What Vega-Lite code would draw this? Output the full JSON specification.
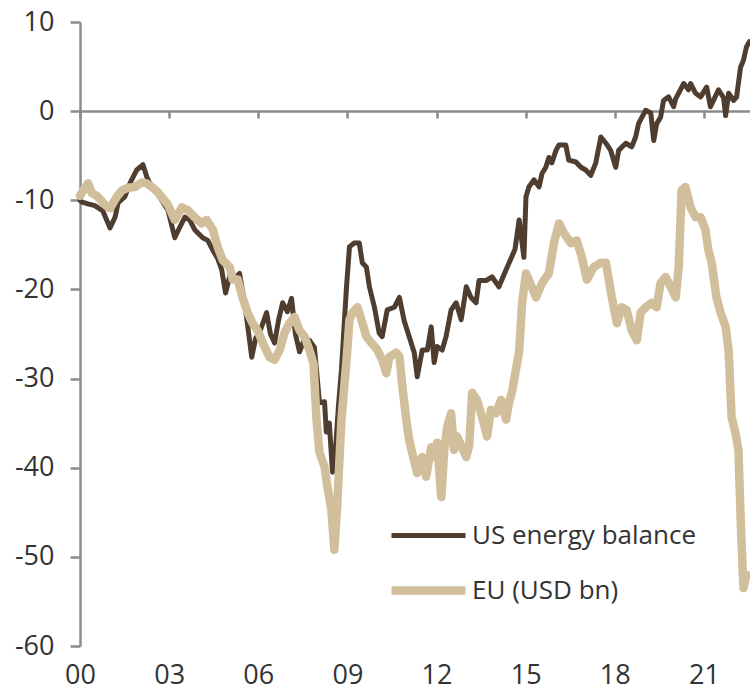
{
  "$schema": "https://vega.github.io/schema/vega-lite/v6.json",
  "width": 670,
  "height": 624,
  "autosize": {"type": "none"},
  "padding": {"left": 80, "top": 22, "right": 0, "bottom": 48},
  "background": "white",
  "config": {"view": {"stroke": null}, "font": "Open Sans"},
  "data": {"values": [
{"s":"US","t":2000.00,"v":-10.0},{"s":"US","t":2000.07,"v":-10.2},{"s":"US","t":2000.27,"v":-10.4},{"s":"US","t":2000.50,"v":-10.6},{"s":"US","t":2000.77,"v":-11.2},
{"s":"US","t":2001.01,"v":-13.1},{"s":"US","t":2001.18,"v":-11.9},{"s":"US","t":2001.28,"v":-10.3},{"s":"US","t":2001.51,"v":-9.6},{"s":"US","t":2001.68,"v":-8.1},
{"s":"US","t":2001.91,"v":-6.6},{"s":"US","t":2002.12,"v":-6.0},{"s":"US","t":2002.25,"v":-7.4},{"s":"US","t":2002.42,"v":-8.6},{"s":"US","t":2002.59,"v":-9.2},
{"s":"US","t":2002.75,"v":-10.0},{"s":"US","t":2002.96,"v":-11.1},{"s":"US","t":2003.19,"v":-14.2},{"s":"US","t":2003.36,"v":-13.0},{"s":"US","t":2003.53,"v":-11.9},
{"s":"US","t":2003.69,"v":-12.2},{"s":"US","t":2003.86,"v":-13.3},{"s":"US","t":2004.13,"v":-14.2},{"s":"US","t":2004.30,"v":-14.5},{"s":"US","t":2004.47,"v":-15.6},
{"s":"US","t":2004.63,"v":-16.5},{"s":"US","t":2004.77,"v":-17.8},{"s":"US","t":2004.90,"v":-20.4},{"s":"US","t":2005.04,"v":-18.5},{"s":"US","t":2005.20,"v":-18.8},
{"s":"US","t":2005.37,"v":-18.2},{"s":"US","t":2005.54,"v":-21.5},{"s":"US","t":2005.68,"v":-25.0},{"s":"US","t":2005.78,"v":-27.6},{"s":"US","t":2005.91,"v":-25.5},
{"s":"US","t":2006.08,"v":-24.5},{"s":"US","t":2006.28,"v":-22.6},{"s":"US","t":2006.41,"v":-25.0},{"s":"US","t":2006.55,"v":-26.0},{"s":"US","t":2006.68,"v":-23.5},
{"s":"US","t":2006.82,"v":-21.5},{"s":"US","t":2006.98,"v":-22.5},{"s":"US","t":2007.12,"v":-21.0},{"s":"US","t":2007.25,"v":-25.0},{"s":"US","t":2007.39,"v":-27.0},
{"s":"US","t":2007.56,"v":-25.5},{"s":"US","t":2007.72,"v":-25.7},{"s":"US","t":2007.89,"v":-26.5},{"s":"US","t":2008.06,"v":-32.7},{"s":"US","t":2008.23,"v":-32.6},
{"s":"US","t":2008.29,"v":-36.0},{"s":"US","t":2008.39,"v":-35.0},{"s":"US","t":2008.50,"v":-40.5},{"s":"US","t":2008.60,"v":-38.0},{"s":"US","t":2008.70,"v":-33.0},
{"s":"US","t":2008.80,"v":-29.0},{"s":"US","t":2008.97,"v":-19.7},{"s":"US","t":2009.07,"v":-15.2},{"s":"US","t":2009.23,"v":-14.8},{"s":"US","t":2009.40,"v":-14.8},
{"s":"US","t":2009.50,"v":-17.0},{"s":"US","t":2009.64,"v":-17.5},{"s":"US","t":2009.74,"v":-19.7},{"s":"US","t":2009.91,"v":-22.0},{"s":"US","t":2010.07,"v":-24.9},
{"s":"US","t":2010.17,"v":-25.3},{"s":"US","t":2010.34,"v":-22.3},{"s":"US","t":2010.58,"v":-22.0},{"s":"US","t":2010.75,"v":-20.9},{"s":"US","t":2010.91,"v":-23.5},
{"s":"US","t":2011.08,"v":-25.3},{"s":"US","t":2011.25,"v":-27.1},{"s":"US","t":2011.35,"v":-29.8},{"s":"US","t":2011.52,"v":-26.8},{"s":"US","t":2011.69,"v":-26.8},
{"s":"US","t":2011.82,"v":-24.2},{"s":"US","t":2011.92,"v":-28.2},{"s":"US","t":2012.02,"v":-26.4},{"s":"US","t":2012.19,"v":-26.8},{"s":"US","t":2012.32,"v":-25.3},
{"s":"US","t":2012.49,"v":-22.3},{"s":"US","t":2012.66,"v":-21.5},{"s":"US","t":2012.83,"v":-23.4},{"s":"US","t":2013.00,"v":-19.7},{"s":"US","t":2013.16,"v":-20.9},
{"s":"US","t":2013.33,"v":-21.5},{"s":"US","t":2013.43,"v":-19.0},{"s":"US","t":2013.67,"v":-19.0},{"s":"US","t":2013.87,"v":-18.6},{"s":"US","t":2014.10,"v":-19.7},
{"s":"US","t":2014.34,"v":-17.8},{"s":"US","t":2014.51,"v":-16.5},{"s":"US","t":2014.64,"v":-15.5},{"s":"US","t":2014.78,"v":-12.2},{"s":"US","t":2014.94,"v":-16.4},
{"s":"US","t":2015.01,"v":-9.6},{"s":"US","t":2015.11,"v":-8.5},{"s":"US","t":2015.28,"v":-7.7},{"s":"US","t":2015.45,"v":-8.5},{"s":"US","t":2015.55,"v":-7.0},
{"s":"US","t":2015.68,"v":-6.3},{"s":"US","t":2015.78,"v":-5.2},{"s":"US","t":2015.88,"v":-5.8},{"s":"US","t":2016.02,"v":-4.4},{"s":"US","t":2016.12,"v":-3.8},
{"s":"US","t":2016.35,"v":-3.8},{"s":"US","t":2016.45,"v":-5.5},{"s":"US","t":2016.69,"v":-5.7},{"s":"US","t":2016.86,"v":-6.3},{"s":"US","t":2017.02,"v":-6.6},
{"s":"US","t":2017.19,"v":-7.2},{"s":"US","t":2017.36,"v":-5.8},{"s":"US","t":2017.53,"v":-2.9},{"s":"US","t":2017.70,"v":-3.6},{"s":"US","t":2017.86,"v":-4.4},
{"s":"US","t":2018.03,"v":-6.3},{"s":"US","t":2018.13,"v":-4.4},{"s":"US","t":2018.37,"v":-3.6},{"s":"US","t":2018.57,"v":-4.0},{"s":"US","t":2018.70,"v":-2.9},
{"s":"US","t":2018.80,"v":-1.4},{"s":"US","t":2018.91,"v":-0.7},{"s":"US","t":2019.04,"v":0.1},{"s":"US","t":2019.21,"v":-0.2},{"s":"US","t":2019.31,"v":-3.3},
{"s":"US","t":2019.41,"v":-1.4},{"s":"US","t":2019.54,"v":-0.7},{"s":"US","t":2019.64,"v":1.2},{"s":"US","t":2019.81,"v":1.6},{"s":"US","t":2019.98,"v":0.5},
{"s":"US","t":2020.05,"v":1.4},{"s":"US","t":2020.21,"v":2.4},{"s":"US","t":2020.32,"v":3.1},{"s":"US","t":2020.48,"v":2.4},{"s":"US","t":2020.55,"v":3.1},
{"s":"US","t":2020.72,"v":2.0},{"s":"US","t":2020.89,"v":1.6},{"s":"US","t":2021.09,"v":2.7},{"s":"US","t":2021.22,"v":0.5},{"s":"US","t":2021.32,"v":1.2},
{"s":"US","t":2021.49,"v":2.4},{"s":"US","t":2021.66,"v":1.5},{"s":"US","t":2021.73,"v":-0.5},{"s":"US","t":2021.83,"v":2.0},{"s":"US","t":2022.00,"v":1.2},
{"s":"US","t":2022.10,"v":1.6},{"s":"US","t":2022.23,"v":4.9},{"s":"US","t":2022.33,"v":5.7},{"s":"US","t":2022.43,"v":7.2},{"s":"US","t":2022.53,"v":7.8},
{"s":"EU","t":2000.00,"v":-9.5},{"s":"EU","t":2000.13,"v":-8.8},{"s":"EU","t":2000.27,"v":-8.1},{"s":"EU","t":2000.40,"v":-9.2},{"s":"EU","t":2000.60,"v":-9.6},
{"s":"EU","t":2000.84,"v":-10.5},{"s":"EU","t":2001.01,"v":-10.9},{"s":"EU","t":2001.24,"v":-9.6},{"s":"EU","t":2001.41,"v":-8.9},{"s":"EU","t":2001.61,"v":-8.6},
{"s":"EU","t":2001.85,"v":-8.5},{"s":"EU","t":2002.08,"v":-8.0},{"s":"EU","t":2002.25,"v":-8.1},{"s":"EU","t":2002.42,"v":-8.5},{"s":"EU","t":2002.62,"v":-9.1},
{"s":"EU","t":2002.79,"v":-9.8},{"s":"EU","t":2002.96,"v":-10.5},{"s":"EU","t":2003.19,"v":-12.2},{"s":"EU","t":2003.43,"v":-10.8},{"s":"EU","t":2003.63,"v":-11.1},
{"s":"EU","t":2003.86,"v":-11.9},{"s":"EU","t":2004.10,"v":-12.6},{"s":"EU","t":2004.26,"v":-12.2},{"s":"EU","t":2004.47,"v":-13.3},{"s":"EU","t":2004.63,"v":-15.2},
{"s":"EU","t":2004.80,"v":-16.7},{"s":"EU","t":2005.04,"v":-17.5},{"s":"EU","t":2005.14,"v":-18.9},{"s":"EU","t":2005.31,"v":-18.9},{"s":"EU","t":2005.47,"v":-20.9},
{"s":"EU","t":2005.64,"v":-22.6},{"s":"EU","t":2005.81,"v":-23.8},{"s":"EU","t":2005.98,"v":-24.6},{"s":"EU","t":2006.15,"v":-26.0},{"s":"EU","t":2006.38,"v":-27.6},
{"s":"EU","t":2006.55,"v":-27.9},{"s":"EU","t":2006.72,"v":-26.8},{"s":"EU","t":2006.88,"v":-24.9},{"s":"EU","t":2007.05,"v":-23.8},{"s":"EU","t":2007.22,"v":-23.1},
{"s":"EU","t":2007.39,"v":-24.6},{"s":"EU","t":2007.56,"v":-25.3},{"s":"EU","t":2007.72,"v":-26.8},{"s":"EU","t":2007.86,"v":-28.3},{"s":"EU","t":2007.96,"v":-34.6},
{"s":"EU","t":2008.06,"v":-38.3},{"s":"EU","t":2008.23,"v":-39.9},{"s":"EU","t":2008.33,"v":-42.2},{"s":"EU","t":2008.46,"v":-44.7},{"s":"EU","t":2008.56,"v":-49.2},
{"s":"EU","t":2008.66,"v":-44.0},{"s":"EU","t":2008.80,"v":-34.6},{"s":"EU","t":2008.97,"v":-27.9},{"s":"EU","t":2009.07,"v":-23.4},{"s":"EU","t":2009.17,"v":-22.6},
{"s":"EU","t":2009.34,"v":-22.0},{"s":"EU","t":2009.47,"v":-23.4},{"s":"EU","t":2009.64,"v":-25.3},{"s":"EU","t":2009.81,"v":-26.0},{"s":"EU","t":2010.01,"v":-26.8},
{"s":"EU","t":2010.17,"v":-27.9},{"s":"EU","t":2010.31,"v":-29.4},{"s":"EU","t":2010.41,"v":-27.6},{"s":"EU","t":2010.64,"v":-27.1},{"s":"EU","t":2010.75,"v":-27.5},
{"s":"EU","t":2010.85,"v":-30.9},{"s":"EU","t":2010.98,"v":-34.6},{"s":"EU","t":2011.08,"v":-36.9},{"s":"EU","t":2011.18,"v":-38.3},{"s":"EU","t":2011.35,"v":-40.6},
{"s":"EU","t":2011.52,"v":-38.8},{"s":"EU","t":2011.65,"v":-41.0},{"s":"EU","t":2011.82,"v":-37.7},{"s":"EU","t":2011.92,"v":-38.8},{"s":"EU","t":2012.02,"v":-37.2},
{"s":"EU","t":2012.16,"v":-43.3},{"s":"EU","t":2012.26,"v":-38.0},{"s":"EU","t":2012.36,"v":-35.4},{"s":"EU","t":2012.49,"v":-33.9},{"s":"EU","t":2012.59,"v":-38.0},
{"s":"EU","t":2012.69,"v":-36.5},{"s":"EU","t":2012.86,"v":-37.7},{"s":"EU","t":2013.00,"v":-38.8},{"s":"EU","t":2013.10,"v":-37.5},{"s":"EU","t":2013.20,"v":-31.6},
{"s":"EU","t":2013.36,"v":-32.4},{"s":"EU","t":2013.53,"v":-34.3},{"s":"EU","t":2013.70,"v":-36.5},{"s":"EU","t":2013.83,"v":-33.5},{"s":"EU","t":2014.00,"v":-33.9},
{"s":"EU","t":2014.17,"v":-32.4},{"s":"EU","t":2014.34,"v":-34.6},{"s":"EU","t":2014.44,"v":-32.7},{"s":"EU","t":2014.54,"v":-31.5},{"s":"EU","t":2014.67,"v":-29.0},
{"s":"EU","t":2014.78,"v":-27.0},{"s":"EU","t":2014.88,"v":-21.5},{"s":"EU","t":2015.01,"v":-18.2},{"s":"EU","t":2015.18,"v":-19.5},{"s":"EU","t":2015.35,"v":-20.9},
{"s":"EU","t":2015.55,"v":-19.3},{"s":"EU","t":2015.78,"v":-18.2},{"s":"EU","t":2015.95,"v":-14.8},{"s":"EU","t":2016.12,"v":-12.6},{"s":"EU","t":2016.29,"v":-13.7},
{"s":"EU","t":2016.52,"v":-14.8},{"s":"EU","t":2016.72,"v":-14.5},{"s":"EU","t":2016.89,"v":-16.4},{"s":"EU","t":2017.06,"v":-18.9},{"s":"EU","t":2017.29,"v":-17.5},
{"s":"EU","t":2017.53,"v":-17.0},{"s":"EU","t":2017.70,"v":-17.0},{"s":"EU","t":2017.90,"v":-20.9},{"s":"EU","t":2018.07,"v":-23.8},{"s":"EU","t":2018.23,"v":-22.0},
{"s":"EU","t":2018.40,"v":-22.3},{"s":"EU","t":2018.57,"v":-24.6},{"s":"EU","t":2018.74,"v":-25.7},{"s":"EU","t":2018.87,"v":-22.6},{"s":"EU","t":2019.04,"v":-22.0},
{"s":"EU","t":2019.24,"v":-21.5},{"s":"EU","t":2019.41,"v":-22.0},{"s":"EU","t":2019.54,"v":-19.3},{"s":"EU","t":2019.71,"v":-18.6},{"s":"EU","t":2019.88,"v":-19.7},
{"s":"EU","t":2020.05,"v":-20.9},{"s":"EU","t":2020.15,"v":-17.5},{"s":"EU","t":2020.25,"v":-8.9},{"s":"EU","t":2020.38,"v":-8.5},{"s":"EU","t":2020.55,"v":-10.8},
{"s":"EU","t":2020.72,"v":-11.9},{"s":"EU","t":2020.89,"v":-11.9},{"s":"EU","t":2021.05,"v":-13.3},{"s":"EU","t":2021.15,"v":-15.6},{"s":"EU","t":2021.26,"v":-17.0},
{"s":"EU","t":2021.42,"v":-20.9},{"s":"EU","t":2021.56,"v":-22.6},{"s":"EU","t":2021.73,"v":-24.2},{"s":"EU","t":2021.83,"v":-26.8},{"s":"EU","t":2021.93,"v":-34.3},
{"s":"EU","t":2022.06,"v":-36.1},{"s":"EU","t":2022.16,"v":-38.0},{"s":"EU","t":2022.26,"v":-48.0},{"s":"EU","t":2022.33,"v":-53.5},{"s":"EU","t":2022.43,"v":-52.0}
  ]},
  "mark": {"type": "line", "strokeJoin": "round", "strokeCap": "round"},
  "encoding": {
    "x": {
      "field": "t", "type": "quantitative",
      "scale": {"domain": [2000, 2022.55], "nice": false, "zero": false},
      "axis": {
        "title": null, "orient": "bottom", "offset": -535,
        "values": [2000, 2003, 2006, 2009, 2012, 2015, 2018, 2021],
        "domainColor": "#8c8c8c", "domainWidth": 2.5,
        "tickColor": "#8c8c8c", "tickWidth": 2.5, "tickSize": 7,
        "labelPadding": 544, "labelExpr": "substring(toString(datum.value), 2, 4)",
        "labelFontSize": 27, "labelColor": "#333333", "labelFlush": false, "labelOverlap": false,
        "grid": false
      }
    },
    "y": {
      "field": "v", "type": "quantitative",
      "scale": {"domain": [-60, 10], "nice": false, "zero": false},
      "axis": {
        "title": null,
        "values": [-60, -50, -40, -30, -20, -10, 0, 10],
        "domainColor": "#8c8c8c", "domainWidth": 2.5,
        "tickColor": "#8c8c8c", "tickWidth": 2.5, "tickSize": 10,
        "labelPadding": 16, "labelFontSize": 27, "labelColor": "#333333",
        "labelExpr": "toString(datum.value)", "grid": false
      }
    },
    "color": {
      "field": "s", "type": "nominal",
      "scale": {"domain": ["US", "EU"], "range": ["#4f3d2f", "#d1bf9b"]},
      "legend": {
        "title": null, "orient": "none", "legendX": 307, "legendY": 474,
        "symbolType": "stroke", "symbolSize": 5476, "padding": 0, "rowPadding": -20,
        "labelFontSize": 26, "labelColor": "#333333", "labelOffset": 2, "labelLimit": 500,
        "labelExpr": "datum.label == 'US' ? 'US energy balance' : 'EU (USD bn)'"
      }
    },
    "strokeWidth": {
      "field": "s", "type": "nominal",
      "scale": {"type": "ordinal", "domain": ["US", "EU"], "range": [5, 8.5]},
      "legend": {
        "title": null, "orient": "none", "legendX": 307, "legendY": 474,
        "symbolType": "stroke", "symbolSize": 5476, "padding": 0, "rowPadding": -20,
        "labelFontSize": 26, "labelColor": "#333333", "labelOffset": 2, "labelLimit": 500,
        "labelExpr": "datum.label == 'US' ? 'US energy balance' : 'EU (USD bn)'"
      }
    }
  }
}
